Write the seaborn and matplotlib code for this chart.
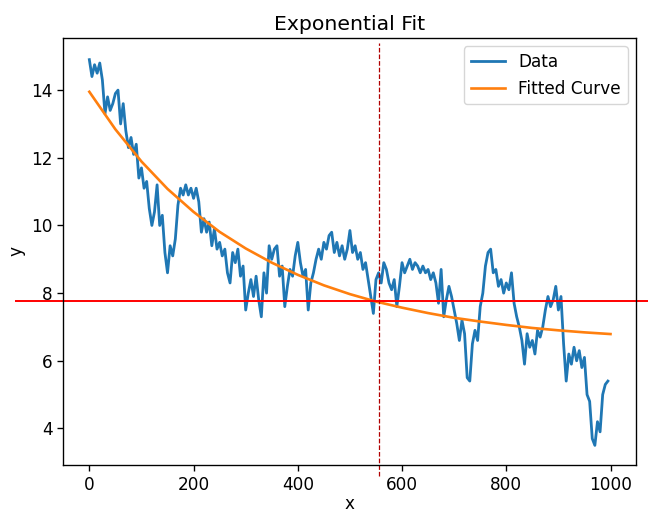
import numpy as np
import matplotlib
matplotlib.use('Agg')
import matplotlib.pyplot as plt
import seaborn as sns

# data values, one every 5 units of x
x_data = np.arange(0, 1000, 5)
y_data = [
    14.9, 14.4, 14.75, 14.5, 14.8, 14.3, 13.3, 13.8, 13.4, 13.6,
    13.9, 14.0, 13.0, 13.6, 12.8, 12.3, 12.6, 12.1, 12.4, 11.4,
    11.7, 11.1, 11.3, 10.5, 10.0, 10.4, 11.2, 10.0, 10.3, 9.2,
    8.6, 9.4, 9.1, 9.6, 10.6, 11.1, 10.9, 11.2, 10.9, 11.1,
    10.8, 11.1, 10.7, 9.8, 10.2, 9.8, 10.1, 9.4, 9.9, 9.3,
    9.5, 9.1, 9.3, 8.6, 8.3, 9.2, 8.9, 9.3, 8.5, 8.8,
    7.5, 8.0, 8.4, 7.9, 8.5, 7.8, 7.3, 8.6, 8.0, 9.4,
    9.0, 9.3, 9.4, 8.5, 8.8, 7.6, 8.2, 8.7, 8.5, 9.1,
    9.5, 8.9, 8.5, 8.7, 7.5, 8.3, 8.6, 9.0, 9.3, 9.0,
    9.5, 9.3, 9.7, 9.8, 9.2, 9.5, 9.1, 9.4, 9.0, 9.3,
    9.85, 9.2, 9.4, 9.0, 9.2, 8.7, 8.9, 8.4, 7.9, 7.4,
    8.4, 8.6, 8.3, 8.9, 8.7, 8.3, 8.1, 8.4, 7.6, 8.2,
    8.9, 8.6, 8.8, 9.0, 8.7, 8.9, 8.8, 8.6, 8.8, 8.6,
    8.7, 8.4, 8.6, 8.3, 7.7, 8.7, 7.3, 7.8, 8.2, 7.9,
    7.5, 7.1, 6.6, 7.2, 6.8, 5.5, 5.4, 6.5, 6.9, 6.6,
    7.6, 8.0, 8.8, 9.2, 9.3, 8.6, 8.7, 8.2, 8.4, 8.0,
    8.3, 8.1, 8.6, 7.7, 7.3, 7.0, 6.6, 5.9, 6.8, 6.4,
    6.6, 6.2, 6.9, 6.7, 7.0, 7.5, 7.9, 7.6, 7.8, 8.2,
    7.5, 7.9, 6.5, 5.4, 6.2, 5.9, 6.4, 6.0, 6.3, 5.8,
    6.1, 5.0, 4.8, 3.7, 3.5, 4.2, 3.9, 5.0, 5.3, 5.4,
]

# fitted curve, sampled every 50 units
x_fit = np.arange(0, 1001, 50)
y_fit = [
    13.95, 12.84, 11.89, 11.08, 10.40, 9.81, 9.32, 8.90, 8.54, 8.23,
    7.97, 7.75, 7.57, 7.41, 7.27, 7.16, 7.06, 6.97, 6.90, 6.84, 6.79,
]

x_mark = 556
y_mark = 7.78

# the reference was drawn a bit larger than the default scale
s = 1.22
plt.rcParams.update({
    'font.size': 10 * s,
    'axes.titlesize': 12 * s,
    'axes.labelsize': 10 * s,
    'xtick.labelsize': 10 * s,
    'ytick.labelsize': 10 * s,
    'legend.fontsize': 10 * s,
    'axes.linewidth': 0.8 * s,
    'xtick.major.size': 3.5 * s,
    'ytick.major.size': 3.5 * s,
    'xtick.major.width': 0.8 * s,
    'ytick.major.width': 0.8 * s,
})

fig, ax = plt.subplots(figsize=(6.48, 5.12), dpi=100)
fig.subplots_adjust(left=0.0977, right=0.9815, bottom=0.0918, top=0.9258)

sns.lineplot(x=x_data, y=y_data, ax=ax, color='#1f77b4', linewidth=2.0, label='Data')
sns.lineplot(x=x_fit, y=y_fit, ax=ax, color='#ff7f0e', linewidth=1.9, label='Fitted Curve')

ax.set_xlim(-49.95, 1048.95)
ax.set_ylim(2.92, 15.54)

# reference lines run past the axes box in the original
ax.vlines(x_mark, 2.59, 15.39, colors='#b00000', linestyles='--', linewidth=0.9, clip_on=False)
ax.hlines(y_mark, -142, 1200, colors='red', linewidth=1.4, clip_on=False)

ax.set_title('Exponential Fit')
ax.set_xlabel('x', labelpad=1)
ax.set_ylabel('y')
ax.legend(loc='upper right')

fig.savefig('out.png', dpi=100)
